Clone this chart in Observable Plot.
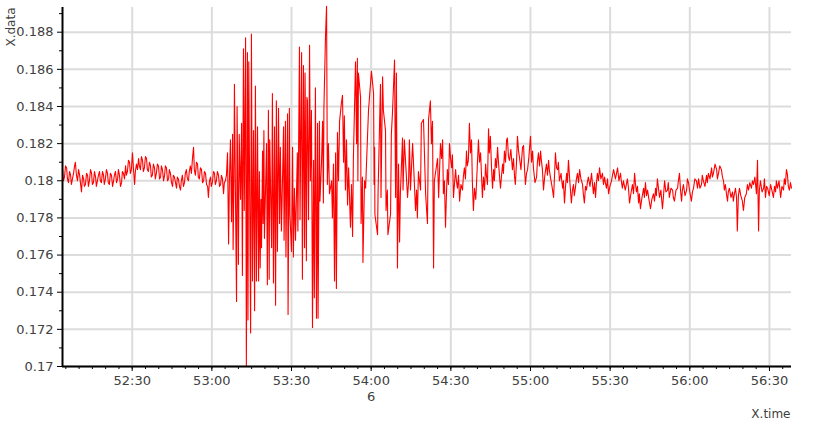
<!DOCTYPE html>
<html><head><meta charset="utf-8">
<script src="https://cdn.jsdelivr.net/npm/d3@7"></script>
<script src="https://cdn.jsdelivr.net/npm/@observablehq/plot@0.6"></script>
<style>html,body{margin:0;padding:0;background:#fff;}</style>
</head><body><div id="chart"></div>
<script>
// time origin (hour shown as "6" under the axis)
const startClock = "06:52:00";
const hourLabel = "6";
const xLabel = "X.time";
const yLabel = "X.data";
// visible window, seconds after 06:52:00
const xWindowSeconds = [3.75, 278.3];
const yDomain = [0.17, 0.18933];
const xTickLabels = ["52:30","53:00","53:30","54:00","54:30","55:00","55:30","56:00","56:30"];
const yTicks = [0.17,0.172,0.174,0.176,0.178,0.18,0.182,0.184,0.186,0.188];
const yMinorTicks = [0.171,0.173,0.175,0.177,0.179,0.181,0.183,0.185,0.187,0.189];

// samples, seconds after 06:52:00 -> X.data
// quiet lead-in
const quietSeconds = [3.8,4.1,4.5,4.9,5.3,5.6,6.0,6.4,6.8,7.1,7.5,7.9,8.3,8.6,9.0,9.4,9.8,10.2,10.5,10.9,11.3,11.7,12.0,12.4,12.8,13.2,13.5,13.9,14.3,14.7,15.0,15.4,15.8,16.2,16.5,16.9,17.3,17.7,18.0,18.4,18.8,19.2,19.5,19.9,20.3,20.7,21.0,21.4,21.8,22.2,22.6,23.0,23.3,23.7,24.1,24.5,24.8,25.2,25.6,26.0,26.3,26.7,27.1,27.5,27.8,28.2,28.6,29.0,29.3,29.7,30.1,30.5,30.9,31.2,31.6,32.0,32.4,32.7,33.1,33.5,33.9,34.2,34.6,35.0,35.4,35.7,36.1,36.5,36.9,37.2,37.6,38.0,38.4,38.7,39.1,39.5,39.9,40.3,40.7,41.0,41.4,41.8,42.2,42.5,42.9,43.3,43.7,44.0,44.4,44.8,45.2,45.5,45.9,46.3,46.7,47.0,47.4,47.8,48.2,48.5,48.9,49.3,49.7,50.0,50.4,50.8,51.2,51.5,51.9,52.3,52.7,53.1,53.4,53.8,54.2,54.6,54.9,55.3,55.7,56.1,56.5,56.9,57.2,57.6,58.0,58.4,58.7,59.1,59.5,59.8,60.2,60.6,61.0,61.3,61.7,62.1,62.5,62.9,63.3,63.6,64.0,64.4,64.7,65.1];
const quietValues = [0.1806,0.1800,0.1802,0.1808,0.1807,0.1801,0.1799,0.1805,0.1803,0.1798,0.1801,0.1804,0.1808,0.1810,0.1803,0.1800,0.1806,0.1803,0.1799,0.1794,0.1803,0.1801,0.1797,0.1798,0.1804,0.1803,0.1797,0.1800,0.1806,0.1804,0.1798,0.1799,0.1805,0.1802,0.1797,0.1800,0.1803,0.1805,0.1800,0.1799,0.1805,0.1803,0.1798,0.1801,0.1806,0.1804,0.1799,0.1798,0.1804,0.1803,0.1797,0.1800,0.1803,0.1805,0.1799,0.1801,0.1806,0.1803,0.1797,0.1799,0.1805,0.1804,0.1801,0.1808,0.1803,0.1805,0.1811,0.1810,0.1804,0.1806,0.1815,0.1806,0.1798,0.1805,0.1809,0.1806,0.1812,0.1808,0.1806,0.1813,0.1811,0.1805,0.1807,0.1813,0.1812,0.1806,0.1805,0.1810,0.1808,0.1802,0.1803,0.1809,0.1807,0.1801,0.1804,0.1809,0.1808,0.1801,0.1802,0.1808,0.1806,0.1800,0.1803,0.1808,0.1807,0.1800,0.1801,0.1806,0.1804,0.1799,0.1797,0.1803,0.1802,0.1799,0.1796,0.1802,0.1801,0.1797,0.1795,0.1800,0.1803,0.1797,0.1799,0.1804,0.1806,0.1801,0.1800,0.1805,0.1808,0.1804,0.1812,0.1818,0.1806,0.1803,0.1810,0.1809,0.1802,0.1801,0.1807,0.1806,0.1799,0.1800,0.1805,0.1804,0.1798,0.1797,0.1791,0.1800,0.1802,0.1797,0.1799,0.1805,0.1804,0.1798,0.1800,0.1805,0.1803,0.1797,0.1798,0.1803,0.1801,0.1793,0.1799,0.1800];

// main burst
const burstSeconds = [65.5,65.9,66.3,66.6,67.0,67.4,67.8,68.0,68.3,68.5,68.9,69.3,69.5,69.8,70.0,70.3,70.8,71.2,71.5,71.9,72.2,72.7,73.0,73.4,73.6,73.9,74.6,74.9,75.3,75.7,76.1,76.4,76.8,77.2,77.6,77.9,78.2,78.5,78.7,79.1,79.3,79.6,79.8,80.6,80.9,81.3,81.6,81.8,82.5,82.8,83.2,83.6,84.0,84.3,84.7,85.1,85.5,85.8,86.2,86.6,87.0,87.2,87.7,87.9,88.5,88.7,89.2,89.4,90.0,90.4,90.7,91.1,91.5,92.2,92.4,93.0,93.2,93.8,94.1,94.5,94.9,95.1,95.6,95.8,96.0,96.4,96.8,97.1,97.5,97.7,97.9,98.3,98.6,99.0,99.4,99.8,100.0,100.5,100.7,101.3,101.7,102.0,102.2,102.8,103.2,103.5,103.9,104.3,105.1,105.4,105.8,106.2,106.6,106.9,107.3,107.7,108.1,108.8,109.2,109.6,109.9,110.3,110.7,111.1,111.5,112.2,112.6,113.0,113.3,114.1,114.5,114.8,115.0,115.2,116.0,116.2,116.7,116.9,117.5,117.9,118.6,119.0,120.1,120.9,121.1,121.3,121.4,122.4,122.6,123.5,123.7,124.3,124.6,125.4,125.6,126.1,126.3,127.3,127.6,128.0,128.8,129.2,129.5,129.9,130.3,130.7,131.0,131.8,132.0,132.5,133.7,134.1,134.4,134.8,135.6,135.9,136.7,137.1,137.4,137.8,138.6,138.9,139.7,140.5,141.2,141.6,142.3,142.7,143.1,143.5,143.8,145.0,145.4];
const burstValues = [0.1803,0.1815,0.1766,0.1800,0.1822,0.1778,0.1825,0.1763,0.1800,0.1852,0.1790,0.1735,0.1840,0.1790,0.1755,0.1825,0.1790,0.1831,0.1749,0.1871,0.1784,0.1877,0.1700,0.1869,0.1725,0.1864,0.1718,0.1879,0.1746,0.1827,0.1730,0.1851,0.1746,0.1829,0.1746,0.1805,0.1753,0.1790,0.1764,0.1816,0.1777,0.1827,0.1769,0.1820,0.1744,0.1838,0.1747,0.1822,0.1764,0.1847,0.1745,0.1829,0.1733,0.1843,0.1762,0.1839,0.1777,0.1818,0.1773,0.1800,0.1829,0.1768,0.1832,0.1759,0.1836,0.1728,0.1839,0.1782,0.1762,0.1818,0.1759,0.1796,0.1768,0.1815,0.1773,0.1872,0.1779,0.1869,0.1747,0.1862,0.1764,0.1858,0.1757,0.1845,0.1843,0.1779,0.1873,0.1800,0.1838,0.1784,0.1721,0.1811,0.1737,0.1850,0.1726,0.1831,0.1726,0.1832,0.1789,0.1810,0.1832,0.1788,0.1839,0.1878,0.1894,0.1798,0.1820,0.1793,0.1800,0.1780,0.1809,0.1746,0.1815,0.1742,0.1826,0.1800,0.1832,0.1842,0.1846,0.1810,0.1835,0.1795,0.1822,0.1787,0.1807,0.1775,0.1798,0.1770,0.1812,0.1864,0.1820,0.1866,0.1800,0.1858,0.1845,0.1777,0.1802,0.1756,0.1800,0.1796,0.1823,0.1838,0.1859,0.1847,0.1798,0.1818,0.1782,0.1771,0.1794,0.1852,0.1791,0.1856,0.1838,0.1827,0.1784,0.1795,0.1771,0.1782,0.1825,0.1836,0.1865,0.1791,0.1858,0.1753,0.1809,0.1767,0.1793,0.1823,0.1795,0.1822,0.1791,0.1800,0.1822,0.1795,0.1820,0.1811,0.1784,0.1795,0.1780,0.1805,0.1795,0.1831,0.1833,0.1793,0.1777,0.1833,0.1843,0.1820,0.1832,0.1753,0.1800,0.1812,0.1791];

// decaying tail
const tailSeconds = [146.1,146.5,146.9,147.2,147.6,148.0,148.4,148.7,149.1,149.5,149.9,150.3,150.6,151.0,151.4,151.8,152.1,152.5,152.9,153.3,153.8,154.4,154.7,155.1,155.5,155.9,156.2,156.6,157.0,157.4,157.8,158.1,158.5,158.9,159.4,160.0,160.4,160.8,161.2,161.5,161.9,162.3,162.7,163.1,163.4,163.8,164.2,164.5,164.9,165.3,165.7,166.1,166.4,166.8,167.2,167.6,167.9,168.3,168.7,169.1,169.5,169.8,170.2,170.6,171.0,171.3,171.7,172.1,172.6,173.2,173.6,174.0,174.3,174.7,175.1,175.5,175.9,176.4,177.0,177.4,177.7,178.1,178.5,178.9,179.4,180.0,180.4,180.8,181.1,181.7,182.3,182.6,183.0,183.4,183.8,184.1,184.5,184.9,185.4,186.0,186.4,186.8,187.1,187.5,188.1,188.7,189.0,189.4,189.8,190.2,190.5,190.9,191.5,192.1,192.4,192.8,193.2,193.6,193.9,194.3,194.8,195.4,195.8,196.2,196.5,196.9,197.3,197.7,198.1,198.5,199.0,199.6,199.9,200.3,200.7,201.1,201.4,201.8,202.4,203.0,203.3,203.7,204.1,204.5,204.8,205.2,205.6,206.0,206.5,207.1,207.5,207.9,208.2,208.6,209.0,209.4,209.9,210.5,210.9,211.3,212.0,212.8,213.3,213.9,214.2,214.6,215.0,215.7,216.5,216.9,217.3,217.8,218.4,218.8,219.2,219.5,219.9,220.3,220.7,221.0,221.4,222.0,222.6,222.9,223.3,223.7,224.1,224.6,225.2,225.7,226.3,226.7,227.1,227.4,227.8,228.2,228.6,229.1,229.7,230.1,230.5,231.0,231.6,231.9,232.3,232.9,233.5,233.8,234.2,234.8,235.4,235.7,236.1,236.5,236.9,237.2,237.6,238.2,238.8,239.1,239.5,240.0,240.6,241.0,241.4,241.9,242.5,242.9,243.3,243.8,244.4,244.7,245.1,245.7,246.3,246.6,247.0,247.6,248.2,248.5,248.9,249.5,250.1,250.4,250.8,251.3,251.9,252.3,252.7,253.0,253.4,253.8,254.2,254.5,254.9,255.5,256.1,256.4,256.8,257.2,257.6,257.9,258.3,258.7,259.2,259.8,260.2,260.7,261.3,261.7,262.1,262.6,263.2,263.6,264.0,264.5,265.1,265.5,265.9,266.2,266.6,267.2,267.8,268.1,268.5,268.9,269.3,269.9,270.4,270.9,271.5,271.9,272.3,272.6,273.0,273.6,274.2,274.7,275.3,275.6,276.0,276.4,276.8,277.1,277.5,277.9,278.3];
const tailValues = [0.1820,0.1812,0.1822,0.1793,0.1800,0.1775,0.1795,0.1806,0.1798,0.1820,0.1812,0.1807,0.1814,0.1791,0.1799,0.1806,0.1800,0.1796,0.1803,0.1789,0.1798,0.1795,0.1802,0.1807,0.1801,0.1816,0.1808,0.1811,0.1831,0.1815,0.1822,0.1800,0.1784,0.1796,0.1790,0.1809,0.1822,0.1810,0.1815,0.1805,0.1791,0.1802,0.1795,0.1809,0.1803,0.1798,0.1828,0.1815,0.1824,0.1808,0.1796,0.1806,0.1800,0.1812,0.1807,0.1818,0.1811,0.1803,0.1796,0.1803,0.1809,0.1804,0.1816,0.1810,0.1822,0.1823,0.1813,0.1811,0.1817,0.1806,0.1812,0.1802,0.1798,0.1809,0.1824,0.1816,0.1812,0.1806,0.1818,0.1819,0.1808,0.1798,0.1804,0.1806,0.1813,0.1824,0.1810,0.1816,0.1807,0.1799,0.1802,0.1810,0.1815,0.1808,0.1816,0.1811,0.1806,0.1795,0.1803,0.1809,0.1803,0.1811,0.1806,0.1802,0.1797,0.1791,0.1801,0.1815,0.1807,0.1806,0.1810,0.1800,0.1804,0.1796,0.1800,0.1788,0.1797,0.1804,0.1799,0.1811,0.1800,0.1788,0.1795,0.1798,0.1792,0.1796,0.1801,0.1804,0.1799,0.1806,0.1801,0.1798,0.1793,0.1788,0.1797,0.1795,0.1799,0.1802,0.1797,0.1804,0.1799,0.1793,0.1799,0.1791,0.1798,0.1804,0.1800,0.1807,0.1801,0.1804,0.1798,0.1802,0.1799,0.1796,0.1801,0.1793,0.1797,0.1800,0.1803,0.1806,0.1801,0.1807,0.1800,0.1804,0.1800,0.1796,0.1800,0.1795,0.1801,0.1796,0.1788,0.1793,0.1798,0.1793,0.1804,0.1799,0.1794,0.1797,0.1788,0.1793,0.1785,0.1791,0.1796,0.1791,0.1799,0.1792,0.1795,0.1790,0.1785,0.1790,0.1793,0.1789,0.1796,0.1792,0.1801,0.1796,0.1791,0.1795,0.1785,0.1792,0.1800,0.1794,0.1795,0.1799,0.1791,0.1796,0.1795,0.1791,0.1789,0.1795,0.1796,0.1800,0.1804,0.1795,0.1789,0.1795,0.1798,0.1792,0.1795,0.1801,0.1799,0.1794,0.1789,0.1794,0.1796,0.1801,0.1800,0.1796,0.1801,0.1796,0.1798,0.1803,0.1800,0.1797,0.1803,0.1799,0.1804,0.1801,0.1807,0.1802,0.1804,0.1809,0.1806,0.1801,0.1804,0.1808,0.1806,0.1802,0.1800,0.1795,0.1798,0.1793,0.1789,0.1794,0.1796,0.1791,0.1794,0.1789,0.1793,0.1796,0.1791,0.1773,0.1792,0.1796,0.1792,0.1789,0.1784,0.1791,0.1793,0.1798,0.1795,0.1799,0.1796,0.1800,0.1798,0.1802,0.1793,0.1811,0.1773,0.1795,0.1800,0.1794,0.1796,0.1801,0.1791,0.1797,0.1796,0.1792,0.1798,0.1795,0.1791,0.1797,0.1794,0.1800,0.1796,0.1800,0.1791,0.1797,0.1795,0.1801,0.1798,0.1806,0.1803,0.1797,0.1795,0.1799,0.1796];

const parseClock = d3.utcParse("%H:%M:%S");
const t0 = parseClock(startClock);
const at = s => new Date(+t0 + s * 1000);
const seconds = [...quietSeconds, ...burstSeconds, ...tailSeconds];
const values = [...quietValues, ...burstValues, ...tailValues];
const data = seconds.map((s, i) => ({time: at(s), value: values[i]}));
const xDomain = xWindowSeconds.map(at);
const xTicks = xTickLabels.map(l => parseClock("06:" + l));
const xMinorTicks = d3.utcSecond.every(5).range(xDomain[0], xDomain[1]);
const hourTick = parseClock("06:54:00");

const textColor = "#404040";
const gridColor = "#dcdcdc";

const chart = Plot.plot({
  width: 828,
  height: 432,
  marginLeft: 62,
  marginRight: 37,
  marginTop: 7,
  marginBottom: 66,
  style: {fontFamily: "'DejaVu Sans', Verdana, sans-serif", fontSize: "13px", background: "#fff", overflow: "visible"},
  x: {type: "utc", domain: xDomain, label: null},
  y: {type: "linear", domain: yDomain, label: null},
  marks: [
    Plot.gridX(xTicks, {stroke: gridColor, strokeOpacity: 1, strokeWidth: 2}),
    Plot.gridY(yTicks, {stroke: gridColor, strokeOpacity: 1, strokeWidth: 2}),
    Plot.line(data, {x: "time", y: "value", stroke: "#ff0000", strokeWidth: 1.1, clip: false}),
    Plot.axisY(yMinorTicks, {tickSize: 3, tickFormat: () => "", stroke: "#000", label: null}),
    Plot.axisY(yTicks, {tickSize: 5, tickPadding: 4, tickFormat: d => String(+d.toFixed(3)), stroke: "#000", fill: textColor, label: null}),
    Plot.axisX(xMinorTicks, {tickSize: 3, tickFormat: () => "", stroke: "#000", label: null}),
    Plot.axisX(xTicks, {tickSize: 5, tickPadding: 4, tickFormat: d3.utcFormat("%M:%S"), stroke: "#000", fill: textColor, label: null}),
    Plot.ruleX([xDomain[0]], {stroke: "#000", strokeWidth: 2}),
    Plot.ruleY([yDomain[0]], {stroke: "#000", strokeWidth: 2}),
    Plot.text([{t: hourTick, label: hourLabel}], {x: "t", text: "label", frameAnchor: "bottom", dy: 34, fill: textColor}),
    Plot.text([xLabel], {frameAnchor: "bottom-right", textAnchor: "end", dx: -1, dy: 51, fill: textColor, fontSize: 12}),
    Plot.text([yLabel], {frameAnchor: "top-left", rotate: -90, textAnchor: "end", dx: -56, dy: 0, fill: textColor, fontSize: 12})
  ]
});
document.getElementById("chart").append(chart);
</script>
</body></html>
